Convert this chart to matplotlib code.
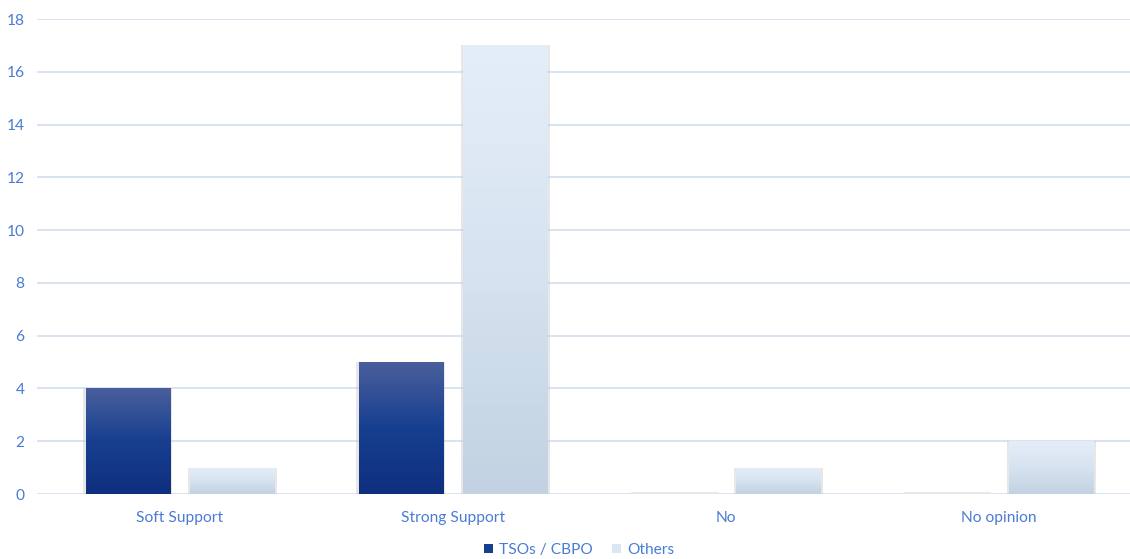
import numpy as np
import matplotlib
matplotlib.use("Agg")
import matplotlib.pyplot as plt
from matplotlib.colors import LinearSegmentedColormap
from matplotlib.patches import Patch

categories = ["Soft Support", "Strong Support", "No", "No opinion"]
series_names = ["TSOs / CBPO", "Others"]
tsos = [4, 5, 0, 0]
others = [1, 17, 1, 2]
yticks = list(range(0, 19, 2))

W, H = 1130, 559
fig = plt.figure(figsize=(W / 100, H / 100), dpi=100)
ax = fig.add_axes([37 / W, 1 - 494 / H, (1130 - 37) / W, (494 - 19) / H])

x = np.arange(len(categories))
width = 0.308
off = 0.192

dark_cmap = LinearSegmentedColormap.from_list("d", ["#0f2f7e", "#173f90", "#4a5f9c"])
light_cmap = LinearSegmentedColormap.from_list("l", ["#c2d2e2", "#d6e3f0", "#e4eef8"])

grad = np.linspace(0, 1, 256).reshape(-1, 1)

def draw(bars, cmap):
    for b in bars:
        bx = b.get_x()
        bw, bh = b.get_width(), b.get_height()
        # soft shadow
        ax.bar(bx + bw / 2, bh, bw * 1.05, bottom=0, color="#c4c4c4", alpha=0.4,
               zorder=2, linewidth=0)
        if bh <= 0:
            ax.plot([bx, bx + bw], [0.03, 0.03], color="#e6e6e6", lw=2, zorder=2.5)
            b.set_visible(False)
            continue
        im = ax.imshow(grad, extent=[bx, bx + bw, 0, bh], origin="lower",
                       cmap=cmap, aspect="auto", zorder=3)
        im.set_clip_path(b)
        b.set_facecolor("none")

b1 = ax.bar(x - off, tsos, width, color="#173f90", linewidth=0, zorder=3)
b2 = ax.bar(x + off, others, width, color="#dbe7f3", linewidth=0, zorder=3)
draw(b1, dark_cmap)
draw(b2, light_cmap)
ax.set_xlim((37 - 180) / 273, (1130 - 180) / 273)
ax.set_ylim(0, 18)

ax.set_yticks(yticks)
ax.yaxis.grid(True, color="#d6e0f1", lw=1.3)
ax.set_axisbelow(True)
for s in ax.spines.values():
    s.set_visible(False)
ax.tick_params(length=0)
ax.set_xticks(x)
ax.set_xticklabels(categories)
lab_color = "#4a7bd6"
fs = 11.2
for t in ax.get_yticklabels():
    t.set_color(lab_color); t.set_fontsize(fs); t.set_fontfamily("Lato")
for t in ax.get_xticklabels():
    t.set_color(lab_color); t.set_fontsize(fs); t.set_fontfamily("Lato")
ax.tick_params(axis="y", pad=9)
ax.tick_params(axis="x", pad=12)

handles = [Patch(facecolor="#173f90", label=series_names[0]),
           Patch(facecolor="#dbe7f3", label=series_names[1])]
leg = fig.legend(handles=handles, loc="center", bbox_to_anchor=(579 / W, 1 - 550 / H),
                 ncol=2, frameon=False, handlelength=0.6, handleheight=0.6,
                 handletextpad=0.4, columnspacing=1.2,
                 prop={"family": "Lato", "size": fs})
for t in leg.get_texts():
    t.set_color(lab_color)

fig.savefig("out.png", dpi=100)
